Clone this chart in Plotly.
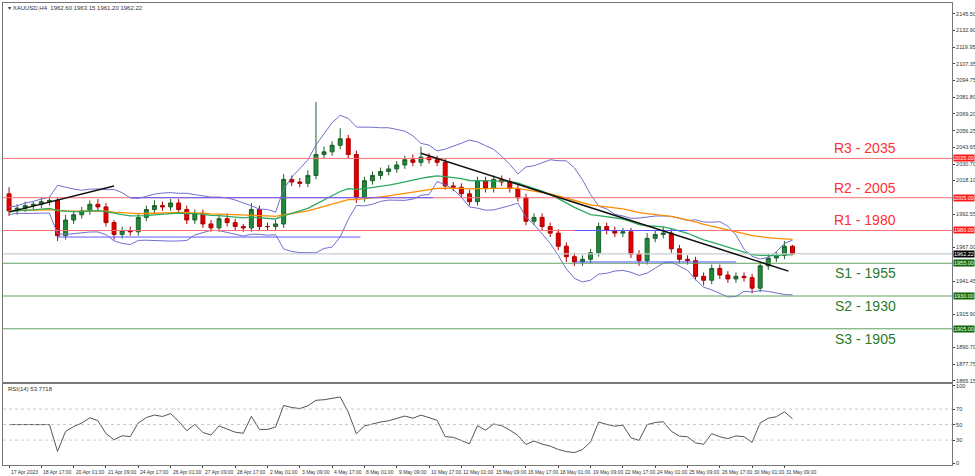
import numpy as np
import pandas as pd
import plotly.graph_objects as go

# 8-hour candles (positions in H4 bar units, two per candle)
closes = [1995,1997,1999,2000,2002,2003,1976,1988,1992,1995,2000,1998,1986,1977,1980,1979,
          1990,1996,1999,1998,2001,1996,1988,1993,1985,1982,1989,1986,1983,1982,1996,1983,
          1983,1985,2019,2017,2016,2022,2038,2040,2045,2050,2038,2005,2018,2022,2025,2027,
          2030,2034,2032,2036,2034,2032,2014,2013,2008,2002,2018,2012,2019,2017,2012,2005,
          1987,1990,1983,1978,1968,1960,1956,1958,1963,1983,1980,1978,1979,1962,1957,1974,
          1977,1978,1966,1958,1957,1945,1942,1951,1946,1943,1945,1944,1936,1953,1959,1961,
          1968,1962.22]
upper_wick = [5,3,3,2,3,3,2,4,3,3,3,4,3,2,3,3,3,3,4,3,3,3,3,3,3,3,3,4,3,2,5,3,
              3,3,4,3,3,4,40,4,3,8,3,3,3,3,3,3,3,3,4,8,3,3,3,3,3,3,3,3,3,3,3,3,
              3,3,3,3,3,3,3,3,3,3,3,3,3,3,3,4,3,5,3,3,3,3,3,3,3,3,3,3,3,3,3,3,
              4,1]
lower_wick = [4,3,3,3,3,3,4,3,3,3,3,3,3,4,3,3,3,3,3,3,3,3,3,3,3,3,3,3,3,3,3,3,
              3,3,3,3,3,3,3,3,3,3,3,4,3,3,3,3,3,3,3,3,3,3,3,3,3,3,3,3,3,3,3,3,
              3,3,3,3,3,4,3,3,3,3,3,3,3,3,4,3,3,3,3,3,3,3,4,3,3,3,3,3,4,3,3,3,
              3,1]
first_open = 2008

x_ticks = [0,8,16,24,32,40,48,56,64,72,80,88,96,104,112,120,128,136,144,152,160,168,176,184,192]
x_labels = ["17 Apr 2023","18 Apr 17:00","20 Apr 01:00","21 Apr 09:00","24 Apr 17:00","26 Apr 01:00",
            "27 Apr 09:00","28 Apr 17:00","2 May 01:00","3 May 09:00","4 May 17:00","8 May 01:00",
            "9 May 09:00","10 May 17:00","12 May 01:00","15 May 09:00","16 May 17:00","18 May 01:00",
            "19 May 09:00","22 May 17:00","24 May 01:00","25 May 09:00","26 May 17:00","30 May 01:00",
            "31 May 09:00"]
y_ticks = [2145.50,2132.90,2119.95,2107.35,2094.75,2081.80,2069.20,2056.25,2043.65,2030.70,
           2018.10,1992.55,1967.00,1941.45,1915.90,1890.70,1877.75,1865.15]

resist = [2035, 2005, 1980]
resist_names = ["R3 - 2035", "R2 - 2005", "R1 - 1980"]
support = [1955, 1930, 1905]
support_names = ["S1 - 1955", "S2 - 1930", "S3 - 1905"]
last_price = 1962.22
rsi_last = "53.7718"

# trend lines and horizontal levels drawn on chart (H4 index, price)
trend1 = [(0, 1994), (26, 2014)]
trend2 = [(102, 2039), (193, 1949)]
hlines_blue = [(12, 87, 1975), (30, 105, 2005), (140, 168, 1980), (140, 180, 1956)]

n = len(closes)
xs = np.arange(n) * 2
opens = [first_open] + closes[:-1]
highs = [max(o, c) + u for o, c, u in zip(opens, closes, upper_wick)]
lows = [min(o, c) - l for o, c, l in zip(opens, closes, lower_wick)]

s = pd.Series(closes, dtype=float)
ma_fast = s.ewm(span=25, adjust=False).mean()
ma_slow = s.ewm(span=50, adjust=False).mean()
mid = s.rolling(10, min_periods=1).mean()
sd = s.rolling(10, min_periods=2).std().bfill()
bb_up = mid + 2 * sd
bb_lo = mid - 2 * sd
d = s.diff().fillna(0)
gain = d.clip(lower=0).ewm(alpha=1/7, adjust=False).mean()
loss = (-d.clip(upper=0)).ewm(alpha=1/7, adjust=False).mean()
rsi = 100 - 100 / (1 + gain / loss.replace(0, np.nan))
rsi = rsi.fillna(50)

fig = go.Figure()
fig.add_trace(go.Scatter(x=xs, y=bb_up, mode="lines", line=dict(color="#6f6fcf", width=1), hoverinfo="skip"))
fig.add_trace(go.Scatter(x=xs, y=bb_lo, mode="lines", line=dict(color="#6f6fcf", width=1), hoverinfo="skip"))
fig.add_trace(go.Scatter(x=xs, y=ma_slow, mode="lines", line=dict(color="#ff8c00", width=1.3), hoverinfo="skip"))
fig.add_trace(go.Scatter(x=xs, y=ma_fast, mode="lines", line=dict(color="#2eaa5e", width=1.3), hoverinfo="skip"))
fig.add_trace(go.Candlestick(x=xs, open=opens, high=highs, low=lows, close=closes,
                             increasing=dict(line=dict(color="#1f5f2a", width=1), fillcolor="#1f8a3a"),
                             decreasing=dict(line=dict(color="#b00000", width=1), fillcolor="#e00000"),
                             whiskerwidth=0))
fig.add_trace(go.Scatter(x=xs, y=rsi, mode="lines", line=dict(color="#555", width=1),
                         xaxis="x2", yaxis="y2", hoverinfo="skip"))

shapes = []
for lv in resist:
    shapes.append(dict(type="line", xref="paper", yref="y", x0=0, x1=1, y0=lv, y1=lv,
                       line=dict(color="#ff7070", width=1)))
for lv in support:
    shapes.append(dict(type="line", xref="paper", yref="y", x0=0, x1=1, y0=lv, y1=lv,
                       line=dict(color="#5fa35f", width=1)))
shapes.append(dict(type="line", xref="paper", yref="y", x0=0, x1=1, y0=last_price, y1=last_price,
                   line=dict(color="#c8cdd2", width=1.2)))
for a, b, lv in hlines_blue:
    shapes.append(dict(type="line", xref="x", yref="y", x0=a, x1=b, y0=lv, y1=lv,
                       line=dict(color="#5a5aff", width=1)))
for t in (trend1, trend2):
    shapes.append(dict(type="line", xref="x", yref="y", x0=t[0][0], y0=t[0][1], x1=t[1][0], y1=t[1][1],
                       line=dict(color="#111", width=1.5)))
for lv in (70, 50, 30):
    shapes.append(dict(type="line", xref="paper", yref="y2", x0=0, x1=1, y0=lv, y1=lv,
                       line=dict(color="#bbb", width=0.8, dash="dot")))

ann = []
for lv, nm in zip(resist, resist_names):
    ann.append(dict(x=0.943, xref="paper", y=lv, yref="y", text=nm, showarrow=False,
                    xanchor="right", yanchor="bottom", font=dict(color="#ff3030", size=14, family="Liberation Sans")))
    ann.append(dict(x=1.001, xref="paper", y=lv, yref="y", text=f"{lv:.2f}", showarrow=False,
                    xanchor="left", bgcolor="#ff1a1a", font=dict(color="white", size=5.5), borderpad=0))
for lv, nm in zip(support, support_names):
    ann.append(dict(x=0.943, xref="paper", y=lv, yref="y", text=nm, showarrow=False,
                    xanchor="right", yanchor="top", font=dict(color="#2a7a2a", size=14, family="Liberation Sans")))
    ann.append(dict(x=1.001, xref="paper", y=lv, yref="y", text=f"{lv:.2f}", showarrow=False,
                    xanchor="left", bgcolor="#0a6a0a", font=dict(color="white", size=5.5), borderpad=0))
ann.append(dict(x=1.001, xref="paper", y=last_price, yref="y", text=f"{last_price:.2f}", showarrow=False,
                xanchor="left", bgcolor="#000", font=dict(color="white", size=5.5), borderpad=0))
ann.append(dict(x=0.003, xref="paper", y=1, yref="paper", text="▾ XAUUSD,H4  1962.60 1963.15 1961.20 1962.22",
                showarrow=False, xanchor="left", yanchor="top", font=dict(size=6, color="#333")))
ann.append(dict(x=0.003, xref="paper", y=0.175, yref="paper", text="RSI(14) " + rsi_last,
                showarrow=False, xanchor="left", yanchor="top", font=dict(size=6, color="#333")))
for tx, tl in zip(x_ticks, x_labels):
    ann.append(dict(x=tx, xref="x2", y=0, yref="paper", yshift=-2, text=tl, showarrow=False,
                    xanchor="left", yanchor="top", font=dict(size=5, color="#333")))

fig.update_layout(
    width=975, height=476, margin=dict(l=3, r=23, t=3, b=11, autoexpand=False),
    paper_bgcolor="white", plot_bgcolor="white", showlegend=False,
    font=dict(family="Liberation Sans", size=6, color="#333"),
    shapes=shapes, annotations=ann,
    xaxis=dict(range=[-1.5, 233.5], domain=[0, 1], showticklabels=False, showgrid=False,
               rangeslider=dict(visible=False), showline=True, linecolor="#777", mirror=True, zeroline=False),
    yaxis=dict(domain=[0.18, 1], range=[1864.5, 2153.6], side="right", tickvals=y_ticks,
               ticktext=[f"{v:.2f}" for v in y_ticks], ticks="outside", ticklen=2, showgrid=False,
               showline=True, linecolor="#777", mirror=True, zeroline=False, tickfont=dict(size=5.5)),
    xaxis2=dict(range=[-1.5, 233.5], domain=[0, 1], anchor="y2", tickvals=x_ticks, showticklabels=False,
                ticks="outside", ticklen=2, showgrid=False, showline=True, linecolor="#777",
                mirror=True, zeroline=False),
    yaxis2=dict(domain=[0, 0.175], range=[-2, 102], side="right", anchor="x2", tickvals=[0, 30, 50, 70, 100],
                ticks="outside", ticklen=2, showgrid=False, showline=True, linecolor="#777", mirror=True,
                zeroline=False, tickfont=dict(size=5.5)),
)
fig.write_html("out.html", config={"displayModeBar": False},
               post_script="document.body.style.margin='0';")
